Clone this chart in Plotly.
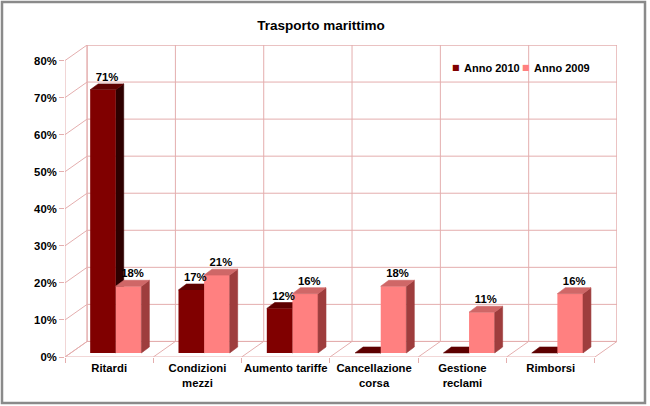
import plotly.graph_objects as go

# ---------------- data ----------------
categories = ["Ritardi", "Condizioni<br>mezzi", "Aumento tariffe",
              "Cancellazione<br>corsa", "Gestione<br>reclami", "Rimborsi"]
anno_2010 = [71, 17, 12, 0, 0, 0]
anno_2009 = [18, 21, 16, 18, 11, 16]
y_tick_values = [0, 10, 20, 30, 40, 50, 60, 70, 80]
y_tick_labels = ["0%", "10%", "20%", "30%", "40%", "50%", "60%", "70%", "80%"]
series_names = ["Anno 2010", "Anno 2009"]

# ---------------- style / geometry ----------------
W, H = 650, 406
ML, MR, MT, MB = 65, 33, 45, 49
PW, PH = W - ML - MR, H - MT - MB
FONT = "Liberation Sans, Arial, sans-serif"
GRID = "#E4AEAE"

n = len(categories)
DX, DY = 0.25, 4.2          # depth of the 3D box (front -> back wall)
BX, BY = 0.075, 1.1         # position of bar front faces inside the box
BW = 0.29                   # bar width
BDX, BDY = 0.09, 1.6        # depth of each bar
XMIN, XMAX = -0.5, n - 0.5 + DX
YMAX = 80 + DY

front_col = ["#800000", "#FF8080"]
top_col = ["#5E0000", "#CF6767"]
side_col = ["#2E0000", "#9E3D3D"]

xs = list(range(n))
fig = go.Figure()
shapes = []

# back wall and its grid
shapes.append(dict(type="rect", xref="x", yref="y", x0=-0.5 + DX, x1=n - 0.5 + DX,
                   y0=DY, y1=80 + DY, line=dict(color=GRID, width=1),
                   fillcolor="white", layer="below"))
for v in y_tick_values:
    shapes.append(dict(type="line", xref="x", yref="y", x0=-0.5 + DX, x1=n - 0.5 + DX,
                       y0=v + DY, y1=v + DY, line=dict(color=GRID, width=1), layer="below"))
    shapes.append(dict(type="line", xref="x", yref="y", x0=-0.5, x1=-0.5 + DX,
                       y0=v, y1=v + DY, line=dict(color=GRID, width=1), layer="below"))
for k in range(n + 1):
    b = k - 0.5
    shapes.append(dict(type="line", xref="x", yref="y", x0=b + DX, x1=b + DX,
                       y0=DY, y1=80 + DY, line=dict(color=GRID, width=1), layer="below"))
    shapes.append(dict(type="line", xref="x", yref="y", x0=b, x1=b + DX,
                       y0=0, y1=DY, line=dict(color=GRID, width=1), layer="below"))
shapes.append(dict(type="line", xref="x", yref="y", x0=-0.5, x1=n - 0.5, y0=0, y1=0,
                   line=dict(color=GRID, width=1), layer="below"))
shapes.append(dict(type="line", xref="x", yref="y", x0=-0.5, x1=-0.5, y0=0, y1=80,
                   line=dict(color=GRID, width=1), layer="below"))


def faces(x0, val, s, layer):
    x1 = x0 + BW
    top = BY + val
    out = []
    out.append(dict(type="path", xref="x", yref="y",
                    path=f"M{x1},{BY} L{x1},{top} L{x1 + BDX},{top + BDY} L{x1 + BDX},{BY + BDY} Z",
                    fillcolor=side_col[s], line=dict(width=0.6, color=side_col[s]), layer=layer))
    out.append(dict(type="path", xref="x", yref="y",
                    path=f"M{x0},{top} L{x1},{top} L{x1 + BDX},{top + BDY} L{x0 + BDX},{top + BDY} Z",
                    fillcolor=top_col[s], line=dict(width=0.6, color=top_col[s]), layer=layer))
    return out


series = [anno_2010, anno_2009]
offsets = [BX - BW, BX]
for s in range(2):
    for i, v in enumerate(series[s]):
        shapes += faces(i + offsets[s], v, s, "below" if s == 0 else "above")

for s in range(2):
    fig.add_trace(go.Bar(
        x=xs, y=series[s], base=BY, width=BW, offset=offsets[s],
        name=series_names[s], marker=dict(color=front_col[s], line=dict(width=0)),
        showlegend=False,
    ))

# data labels (centred on the top face of each bar)
for s in range(2):
    lx = [i + offsets[s] + BW / 2 + BDX / 2 for i, v in enumerate(series[s]) if v > 0]
    ly = [BY + v + BDY for v in series[s] if v > 0]
    lt = [f"{v}%" for v in series[s] if v > 0]
    fig.add_trace(go.Scatter(x=lx, y=ly, text=lt, mode="text", textposition="top center",
                             textfont=dict(family=FONT, size=11.3, color="black", weight="bold"),
                             showlegend=False, hoverinfo="skip", cliponaxis=False))

# compact legend (Excel style): small square + label
annotations = []
legend_sq_x = [456, 526]
legend_tx_x = [462, 532]
legend_y = (H - MB - 68) / PH
for s in range(2):
    annotations.append(dict(
        xref="paper", yref="paper", x=(legend_sq_x[s] - ML) / PW, y=legend_y,
        xanchor="center", yanchor="middle", showarrow=False,
        text="■", font=dict(family="DejaVu Sans", size=8, color=front_col[s]),
    ))
    annotations.append(dict(
        xref="paper", yref="paper", x=(legend_tx_x[s] - ML) / PW, y=legend_y,
        xanchor="left", yanchor="middle", showarrow=False,
        text=series_names[s],
        font=dict(family=FONT, size=11, color="black", weight="bold"),
    ))

# outer frame
shapes.append(dict(type="rect", xref="paper", yref="paper",
                   x0=(2 - ML) / PW, x1=(645 - ML) / PW,
                   y0=(H - MB - 403) / PH, y1=(H - MB - 2) / PH,
                   line=dict(color="#8A8A8A", width=2.5)))

fig.update_layout(
    width=W, height=H,
    margin=dict(l=ML, r=MR, t=MT, b=MB, pad=0),
    paper_bgcolor="white", plot_bgcolor="white",
    barmode="overlay",
    font=dict(family=FONT, size=11, color="black"),
    title=dict(text="Trasporto marittimo", x=(321) / W, xanchor="center",
               y=1 - 25 / H, yanchor="middle",
               font=dict(family=FONT, size=13.5, color="black", weight="bold")),
    xaxis=dict(range=[XMIN, XMAX], tickvals=xs, ticktext=categories, ticks="",
               showgrid=False, zeroline=False, showline=False, ticklabelstandoff=3,
               tickfont=dict(family=FONT, size=11.3, weight="bold"),
               minor=dict(tickvals=[k - 0.5 for k in range(n + 1)], ticks="outside",
                          ticklen=5, tickcolor=GRID, showgrid=False)),
    yaxis=dict(range=[0, YMAX], tickvals=y_tick_values, ticktext=y_tick_labels,
               ticks="outside", ticklen=5, tickcolor=GRID, showgrid=False,
               zeroline=False, showline=False,
               tickfont=dict(family=FONT, size=11.3, weight="bold")),
    annotations=annotations,
    shapes=shapes,
    hovermode=False,
)

fig.write_html("out.html")
